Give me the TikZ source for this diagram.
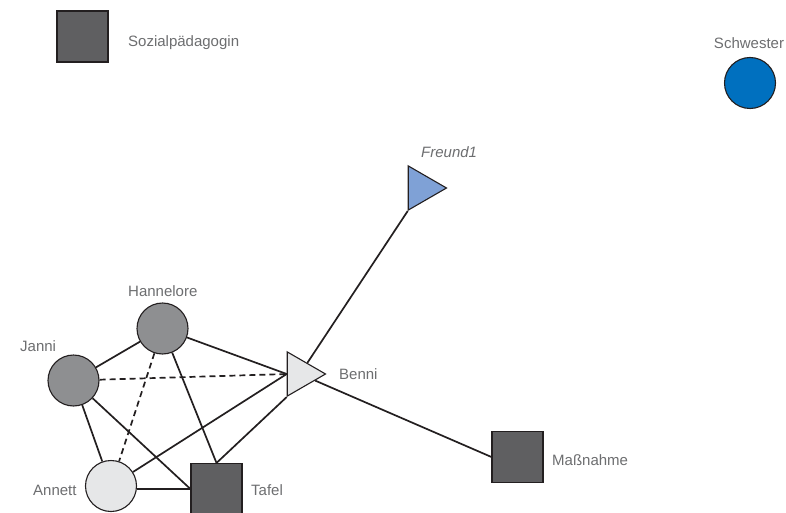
\documentclass[tikz,border=0pt]{standalone}
\usepackage{fontspec}
\setmainfont{Liberation Sans}
\usepackage{tikz}
\usetikzlibrary{calc,shapes}
\definecolor{edgeblack}{HTML}{231F20}
\definecolor{boxgrey}{HTML}{5F5F61}
\definecolor{midgrey}{HTML}{8E8F91}
\definecolor{lightgrey}{HTML}{E6E7E8}
\definecolor{paleblue}{HTML}{7FA1D6}
\definecolor{deepblue}{HTML}{0070BF}
\definecolor{labelgrey}{HTML}{6D6E70}
\tikzstyle{darkbox}=[rectangle,draw=edgeblack,fill=boxgrey,line width=1.1pt,
                     minimum size=51pt,inner sep=0pt]
\tikzstyle{greyball}=[circle,draw=edgeblack,fill=midgrey,line width=1.1pt,
                      minimum size=51pt,inner sep=0pt]
\tikzstyle{lightball}=[greyball,fill=lightgrey]
\tikzstyle{blueball}=[greyball,fill=deepblue]
\tikzstyle{lighttri}=[regular polygon,regular polygon sides=3,shape border rotate=-90,
                      draw=edgeblack,fill=lightgrey,line width=1.1pt,
                      minimum size=51pt,inner sep=0pt]
\tikzstyle{bluetri}=[lighttri,fill=paleblue]
\tikzstyle{namelabel}=[anchor=base west,text=labelgrey,inner sep=0pt,
                       font=\fontsize{15}{18}\selectfont]
\tikzstyle{tieline}=[draw=edgeblack,line width=1.7pt]
\tikzstyle{weaktie}=[tieline,dash pattern=on 6pt off 4pt]

\begin{document}
\begin{tikzpicture}[x=1pt,y=-1pt]
    	\fill[white] (0,0) rectangle (786,513);
    	\useasboundingbox (0,0) rectangle (786,513);

    	\node [darkbox] (sozial) at (82.5,36.5) {};
    	\node [namelabel] (sozial name) at (128,46.5) {Sozialpädagogin};
    	\node [blueball] (schwester) at (750,83) {};
    	\node [namelabel,anchor=base] (schwester name) at (749,49) {Schwester};
    	\node [bluetri] (freund1) at (421,188) {};
    	\node [namelabel] (freund1 name) at (421,158) {\itshape Freund1};
    	\node [lighttri] (benni) at (300,374) {};
    	\node [namelabel] (benni name) at (339,379) {Benni};
    	\node [greyball] (hannelore) at (162.5,328.5) {};
    	\node [namelabel] (hannelore name) at (128,296) {Hannelore};
    	\node [greyball] (janni) at (73.5,380.5) {};
    	\node [namelabel] (janni name) at (20,351.5) {Janni};
    	\node [lightball] (annett) at (111,486) {};
    	\node [namelabel] (annett name) at (33,495) {Annett};
    	\node [darkbox] (tafel) at (216.5,489) {};
    	\node [namelabel] (tafel name) at (251,495) {Tafel};
    	\node [darkbox] (massnahme) at (517.5,457) {};
    	\node [namelabel] (massnahme name) at (552,465) {Maßnahme};

    	\draw [tieline] (janni) -- (hannelore);
    	\draw [tieline] (janni) -- (annett);
    	\draw [tieline] (janni) -- (tafel.west);
    	\draw [tieline] (annett.east |- tafel.west) -- (tafel.west);
    	\draw [tieline] (hannelore) -- (tafel.north);
    	\draw [tieline] (hannelore) -- (benni.west);
    	\draw [tieline] (annett) -- (benni.west);
    	\draw [tieline] (tafel.north) -- (benni.corner 3);
    	\draw [tieline] (benni) -- (freund1.corner 3);
    	\draw [tieline] (benni) -- (massnahme.west);
    	\draw [weaktie] (janni) -- (benni.west);
    	\draw [weaktie] (hannelore) -- (annett);
    \end{tikzpicture}
\end{document}
